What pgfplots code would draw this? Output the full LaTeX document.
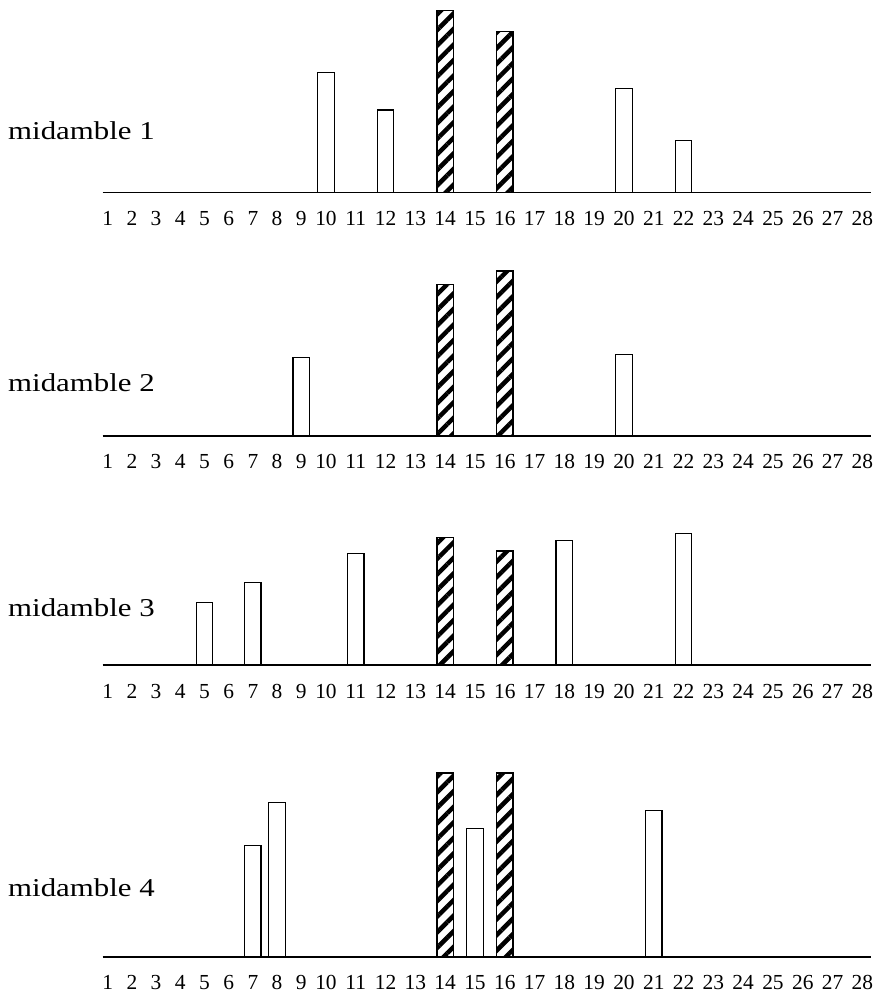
\documentclass[border=0pt]{standalone}
\usepackage{fontspec}
\setmainfont{Liberation Serif}
\usepackage{graphicx}
\usepackage{pgfplots}
\pgfplotsset{compat=1.18}
\usetikzlibrary{patterns.meta}

\pgfplotsset{
  x coord trafo/.code={\pgfmathparse{#1<9.5 ? 24.2*(#1-1) : 218.3+29.8*(#1-10)}},
  midaxis/.style={
    scale only axis, width=768.5bp, height=190bp,
    xmin=0.785, xmax=28.29, ymin=0, ymax=190,
    axis y line=none, axis x line*=bottom,
    x axis line style={line width=1.6bp, -},
    /pgf/number format/assume math mode=true,
    xtick={1,2,3,4,5,6,7,8,9,10,11,12,13,14,15,16,17,18,19,20,21,22,23,24,25,26,27,28},
    xticklabels={1,2,3,4,5,6,7,8,9,10,11,12,13,14,15,16,17,18,19,20,21,22,23,24,25,26,27,28},
    major tick length=0pt, tick style={draw=none},
    xticklabel style={font=\fontsize{21.5}{25}\selectfont\rmfamily, anchor=base, yshift=-33bp, inner sep=0pt},
    clip=false,
  },
  whitebar/.style={ybar, bar width=16.5bp, bar shift=0pt, draw=black, line width=1.3bp, fill=white},
  hatchbar/.style={ybar, bar width=16.5bp, bar shift=0pt, draw=black, line width=1.3bp,
    pattern={Lines[angle=45,distance=11bp,line width=4.5bp]}, pattern color=black},
}

\newcommand{\midlabel}[1]{\scalebox{1.2}[1]{\fontsize{25.8}{30}\selectfont #1}}

\begin{document}
\begin{tikzpicture}
\useasboundingbox (0,0) rectangle (879bp,-996bp);

% midamble 1
\begin{axis}[midaxis, at={(102.5bp,-192.3bp)}, anchor=south west]
\addplot[whitebar] coordinates {(10,119.6) (12,82.3) (20,104) (22,51.6)};
\addplot[hatchbar] coordinates {(14,181.6) (16,160.6)};
\end{axis}
\node[anchor=base west, inner sep=0pt] at (8bp,-139.3bp) {\midlabel{midamble 1}};

% midamble 2
\begin{axis}[midaxis, at={(102.5bp,-435.7bp)}, anchor=south west]
\addplot[whitebar] coordinates {(9,78) (20,81.4)};
\addplot[hatchbar] coordinates {(14,151) (16,164.7)};
\end{axis}
\node[anchor=base west, inner sep=0pt] at (8bp,-391.7bp) {\midlabel{midamble 2}};

% midamble 3
\begin{axis}[midaxis, at={(102.5bp,-665bp)}, anchor=south west]
\addplot[whitebar] coordinates {(5,62.7) (7,82.7) (11,111.7) (18,124.3) (22,131.3)};
\addplot[hatchbar] coordinates {(14,127.7) (16,114)};
\end{axis}
\node[anchor=base west, inner sep=0pt] at (8bp,-616.7bp) {\midlabel{midamble 3}};

% midamble 4
\begin{axis}[midaxis, at={(102.5bp,-956.7bp)}, anchor=south west]
\addplot[whitebar] coordinates {(7,111.4) (8,154.4) (15,128.4) (21,146)};
\addplot[hatchbar] coordinates {(14,183.7) (16,183.7)};
\end{axis}
\node[anchor=base west, inner sep=0pt] at (8bp,-896.7bp) {\midlabel{midamble 4}};
\end{tikzpicture}
\end{document}
